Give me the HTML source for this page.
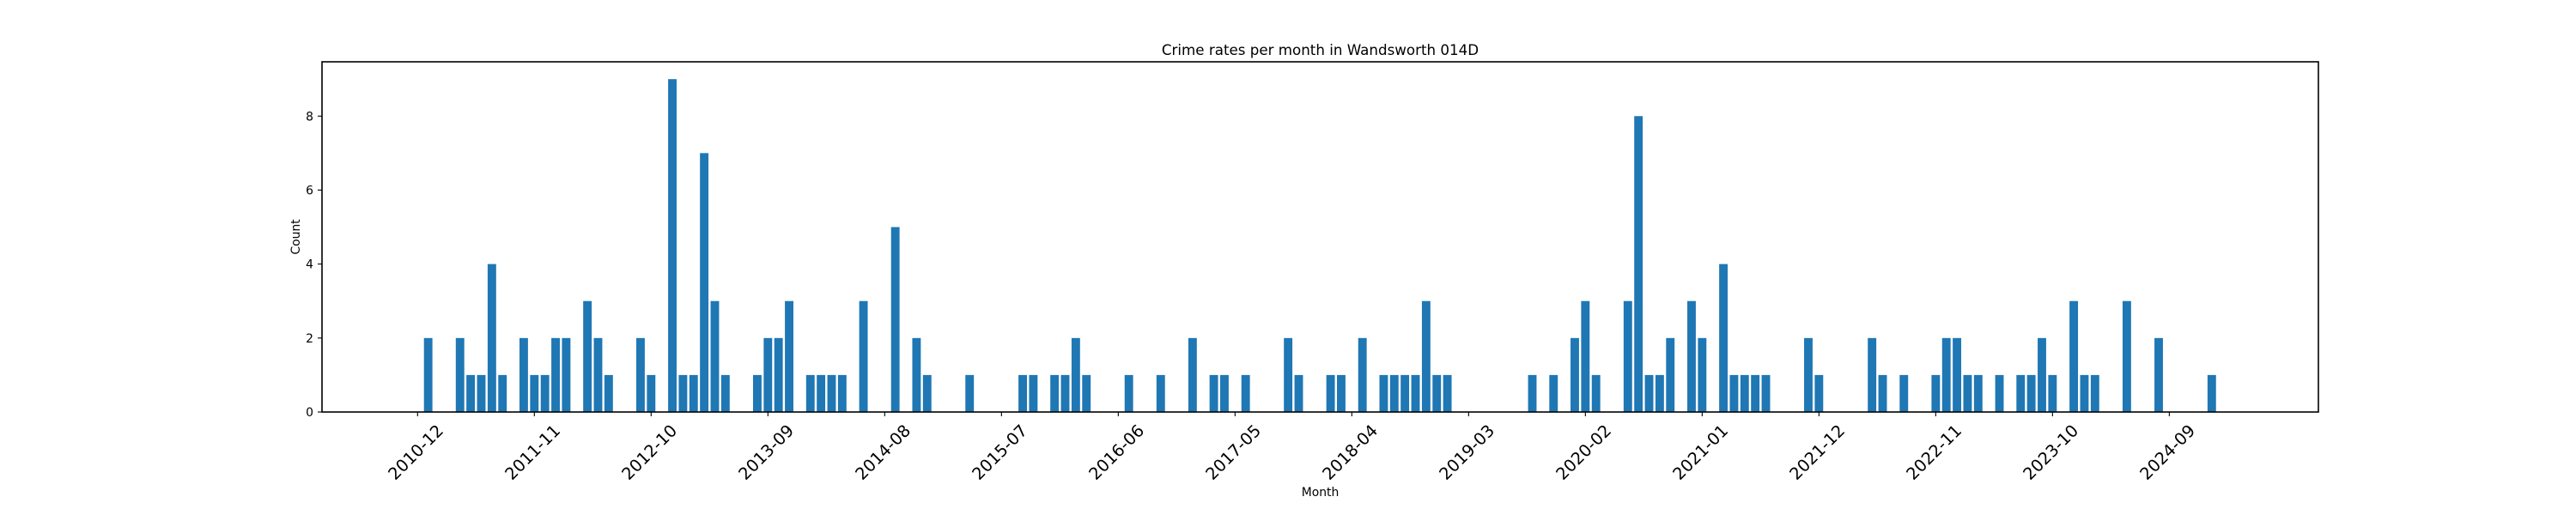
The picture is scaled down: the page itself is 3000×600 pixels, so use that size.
<!DOCTYPE html>
<html><head><meta charset="utf-8"><style>
html,body{margin:0;padding:0;background:#fff;}
svg{display:block;font-family:"DejaVu Sans","Liberation Sans",sans-serif;}
</style></head><body>
<svg id="chart" width="3000" height="600" viewBox="0 0 3000 600" xmlns="http://www.w3.org/2000/svg">
<rect width="3000" height="600" fill="#fff"/>
<text x="1537.5" y="64" font-size="16.7" text-anchor="middle" fill="#000">Crime rates per month in Wandsworth 014D</text>
<text x="1537.5" y="578" font-size="13.9" text-anchor="middle" fill="#000">Month</text>
<text x="0" y="0" font-size="13.9" text-anchor="middle" fill="#000" transform="translate(349,276) rotate(-90)">Count</text>
<g id="bars"></g>
<g id="yaxis"></g>
<g id="xaxis"></g>
<rect x="375" y="72" width="2325" height="408" fill="none" stroke="#000" stroke-width="1.6"/>
</svg>
<script>
const months = ["2011-01","2011-04","2011-05","2011-06","2011-07","2011-08","2011-10","2011-11","2011-12","2012-01","2012-02","2012-04","2012-05","2012-06","2012-09","2012-10","2012-12","2013-01","2013-02","2013-03","2013-04","2013-05","2013-08","2013-09","2013-10","2013-11","2014-01","2014-02","2014-03","2014-04","2014-06","2014-09","2014-11","2014-12","2015-04","2015-09","2015-10","2015-12","2016-01","2016-02","2016-03","2016-07","2016-10","2017-01","2017-03","2017-04","2017-06","2017-10","2017-11","2018-02","2018-03","2018-05","2018-07","2018-08","2018-09","2018-10","2018-11","2018-12","2019-01","2019-09","2019-11","2020-01","2020-02","2020-03","2020-06","2020-07","2020-08","2020-09","2020-10","2020-12","2021-01","2021-03","2021-04","2021-05","2021-06","2021-07","2021-11","2021-12","2022-05","2022-06","2022-08","2022-11","2022-12","2023-01","2023-02","2023-03","2023-05","2023-07","2023-08","2023-09","2023-10","2023-12","2024-01","2024-02","2024-05","2024-08","2025-01"];
const counts = [2,2,1,1,4,1,2,1,1,2,2,3,2,1,2,1,9,1,1,7,3,1,1,2,2,3,1,1,1,1,3,5,2,1,1,1,1,1,1,2,1,1,1,2,1,1,1,2,1,1,1,2,1,1,1,1,3,1,1,1,1,2,3,1,3,8,1,1,2,3,2,4,1,1,1,1,2,1,2,1,1,1,2,2,1,1,1,1,1,2,1,3,1,1,3,2,1];
const xTickLabels = ["2010-12","2011-11","2012-10","2013-09","2014-08","2015-07","2016-06","2017-05","2018-04","2019-03","2020-02","2021-01","2021-12","2022-11","2023-10","2024-09"];
const yTicks = [0,2,4,6,8];

const NS="http://www.w3.org/2000/svg";
const origin="2010-12";
function monthIndex(s){const [y,m]=s.split("-").map(Number);const [y0,m0]=origin.split("-").map(Number);return (y-y0)*12+(m-m0);}
// x scale: month index -> pixel
const X0=486.3, STEP=12.364;
function xScale(i){return X0+i*STEP;}
// y scale
const Y_BASE=480, Y_TOP=72, Y_MAX=(480-72)/43.09;
function yScale(v){return Y_BASE-(v/Y_MAX)*(Y_BASE-Y_TOP);}
const BW=STEP*0.8;

const bars=document.getElementById("bars");
months.forEach((m,k)=>{
  const r=document.createElementNS(NS,"rect");
  const cx=xScale(monthIndex(m));
  r.setAttribute("x",(cx-BW/2).toFixed(2));
  r.setAttribute("y",yScale(counts[k]).toFixed(2));
  r.setAttribute("width",BW.toFixed(2));
  r.setAttribute("height",(Y_BASE-yScale(counts[k])).toFixed(2));
  r.setAttribute("fill","#1f77b4");
  
  
  bars.appendChild(r);
});

const ya=document.getElementById("yaxis");
yTicks.forEach(v=>{
  const y=yScale(v);
  const l=document.createElementNS(NS,"line");
  l.setAttribute("x1",370);l.setAttribute("x2",375);
  l.setAttribute("y1",y);l.setAttribute("y2",y);
  l.setAttribute("stroke","#000");l.setAttribute("stroke-width","1.1");
  
  
  ya.appendChild(l);
  const t=document.createElementNS(NS,"text");
  t.setAttribute("x",365);t.setAttribute("y",y+5);
  t.setAttribute("font-size","13.9");t.setAttribute("text-anchor","end");
  t.textContent=String(v);
  
  
  ya.appendChild(t);
});

const xa=document.getElementById("xaxis");
xTickLabels.forEach(s=>{
  const x=xScale(monthIndex(s));
  const l=document.createElementNS(NS,"line");
  l.setAttribute("x1",x);l.setAttribute("x2",x);
  l.setAttribute("y1",480);l.setAttribute("y2",485);
  l.setAttribute("stroke","#000");l.setAttribute("stroke-width","1.1");
  
  
  xa.appendChild(l);
  const t=document.createElementNS(NS,"text");
  t.setAttribute("x",0);t.setAttribute("y",0);
  t.setAttribute("font-size","19.4");t.setAttribute("text-anchor","middle");
  t.setAttribute("dominant-baseline","central");
  t.setAttribute("transform","translate("+(x-2)+",527) rotate(-45)");
  t.textContent=s;
  
  
  xa.appendChild(t);
});
</script>
</body></html>
